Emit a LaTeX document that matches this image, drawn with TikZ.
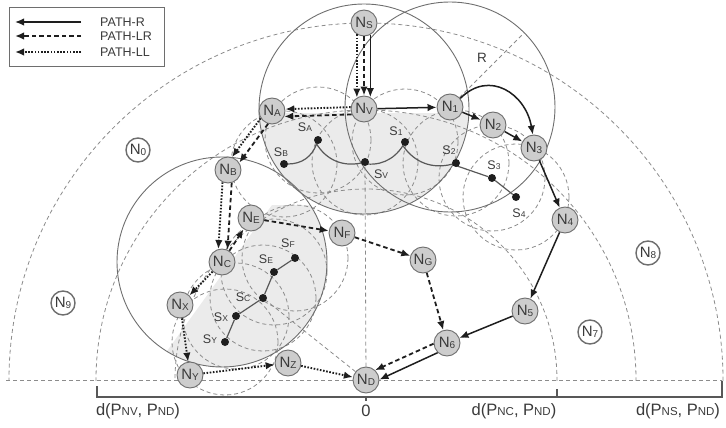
\documentclass[tikz,border=0pt]{standalone}
\usepackage{fontspec}
\setmainfont{Liberation Sans}
\usetikzlibrary{arrows.meta,calc}
\pgfdeclarelayer{bga}
\pgfdeclarelayer{bgb}
\pgfsetlayers{bga,bgb,main}
\definecolor{txt}{HTML}{3A3A3A}
\definecolor{ink}{HTML}{1E1E1E}
\definecolor{rng}{HTML}{6E6E6E}
\definecolor{dsh}{HTML}{8C8C8C}
\definecolor{nfill}{HTML}{CDCDCD}
\definecolor{lgray}{HTML}{EBEBEB}
\newcommand\nsub[1]{{\fontsize{10}{10}\selectfont\raisebox{-0.8pt}{#1}}}
\newcommand\ssub[1]{{\fontsize{8.5}{8.5}\selectfont\raisebox{-0.5pt}{#1}}}
\newcommand\bsub[1]{{\fontsize{11.5}{11.5}\selectfont #1}}
\tikzset{
 gnode/.style={circle,draw=rng,fill=nfill,line width=0.9pt,minimum size=26pt,inner sep=0pt,text=txt,font=\fontsize{15}{15}\selectfont},
 wnode/.style={circle,draw=rng,fill=white,line width=1.4pt,minimum size=24pt,inner sep=0pt,text=txt,font=\fontsize{15}{15}\selectfont},
 sdot/.style={circle,fill=ink,minimum size=8pt,inner sep=0pt},
 slab/.style={text=txt,font=\fontsize{12.5}{13}\selectfont,inner sep=0pt},
 blab/.style={text=txt,font=\fontsize{16.5}{16.5}\selectfont,inner sep=0pt},
 ltext/.style={text=txt,font=\fontsize{12.5}{13}\selectfont,inner sep=0pt,anchor=west},
 tipR/.tip={Latex[length=9pt,width=7.5pt]},
 pR/.style={draw=ink,line width=1.5pt,-{tipR}},
 pLR/.style={draw=ink,line width=1.8pt,dash pattern=on 4.5pt off 3pt,-{tipR}},
 pLL/.style={draw=ink,line width=1.9pt,dash pattern=on 1.6pt off 1.6pt,-{tipR}},
 rangec/.style={draw=rng,line width=0.9pt},
 dc/.style={draw=dsh,line width=0.8pt,dash pattern=on 4pt off 3pt},
 schain/.style={draw=rng!80!black,line width=1.2pt},
 axisl/.style={draw=rng!80!black,line width=1.3pt},
}
\begin{document}
\begin{tikzpicture}[x=1pt,y=-1pt]
\useasboundingbox (0,0) rectangle (726,428);
% ---------- nodes ----------
\node[gnode] (NS) at (364,23) {N\nsub{S}};
\node[gnode] (NV) at (364,109) {N\nsub{V}};
\node[gnode] (NA) at (272,111) {N\nsub{A}};
\node[gnode] (N1) at (450,107) {N\nsub{1}};
\node[gnode] (N2) at (493,125) {N\nsub{2}};
\node[gnode] (N3) at (534,148) {N\nsub{3}};
\node[gnode] (N4) at (565,220) {N\nsub{4}};
\node[gnode] (N5) at (525,311) {N\nsub{5}};
\node[gnode] (N6) at (447,343) {N\nsub{6}};
\node[gnode] (ND) at (366,380) {N\nsub{D}};
\node[gnode] (NZ) at (288,363) {N\nsub{Z}};
\node[gnode] (NY) at (190,375) {N\nsub{Y}};
\node[gnode] (NX) at (180,305) {N\nsub{X}};
\node[gnode] (NC) at (222,262) {N\nsub{C}};
\node[gnode] (NB) at (228,170) {N\nsub{B}};
\node[gnode] (NE) at (251,218) {N\nsub{E}};
\node[gnode] (NF) at (342,233) {N\nsub{F}};
\node[gnode] (NG) at (423,260) {N\nsub{G}};
\node[wnode] (N0) at (138,150) {N\nsub{0}};
\node[wnode] (N9) at (63,303) {N\nsub{9}};
\node[wnode] (N7) at (590,332) {N\nsub{7}};
\node[wnode] (N8) at (648,253) {N\nsub{8}};
% S points
\node[sdot] (SA) at (318,140) {};
\node[sdot] (SB) at (284,164) {};
\node[sdot] (SV) at (365,162) {};
\node[sdot] (S1) at (405,142) {};
\node[sdot] (S2) at (456,163) {};
\node[sdot] (S3) at (492,178) {};
\node[sdot] (S4) at (516,197) {};
\node[sdot] (SF) at (295,258) {};
\node[sdot] (SE) at (274,272) {};
\node[sdot] (SC) at (263,298) {};
\node[sdot] (SX) at (236,316) {};
\node[sdot] (SY) at (225,342) {};
\node[slab] (lSA) at (305,127) {S\ssub{A}};
\node[slab] (lSB) at (281,152) {S\ssub{B}};
\node[slab] (lSV) at (381,174) {S\ssub{V}};
\node[slab] (lS1) at (396,131) {S\ssub{1}};
\node[slab] (lS2) at (449,150) {S\ssub{2}};
\node[slab] (lS3) at (494,165) {S\ssub{3}};
\node[slab] (lS4) at (519,213) {S\ssub{4}};
\node[slab] (lSF) at (288,243) {S\ssub{F}};
\node[slab] (lSE) at (266,259) {S\ssub{E}};
\node[slab] (lSC) at (243,297) {S\ssub{C}};
\node[slab] (lSX) at (221,317) {S\ssub{X}};
\node[slab] (lSY) at (210,339) {S\ssub{Y}};
\node[slab,font=\fontsize{13.5}{13.5}\selectfont] (lR) at (482,58) {R};
% ---------- background fills ----------
\begin{pgfonlayer}{bga}
 \begin{scope}
  \clip (0,113) rectangle (726,428);
  \fill[lgray] (NV) circle[radius=105];
 \end{scope}
 \begin{scope}
  \clip (272,205) -- (139,390) -- (460,390) -- (460,205) -- cycle;
  \fill[lgray] (NC) circle[radius=105];
 \end{scope}
\end{pgfonlayer}
% ---------- dashed and range circles ----------
\coordinate (bl) at (6,380);
\coordinate (br) at (722,380);
\coordinate (Rend) at ($(N1)+(74,-74)$);
\begin{pgfonlayer}{bgb}
 \begin{scope}
  \clip (0,0) rectangle (726,380);
  \foreach \r in {191,270,357} \draw[dc] (ND) circle[radius=\r];
 \end{scope}
 \draw[dc] (bl) -- (br);
 \foreach \s in {SA,SB,SV,S1,S2,S3,S4,SF,SE,SC,SX,SY} \draw[dc] (\s) circle[radius=53];
 \draw[dc] (ND) -- (SV);
 \draw[dc] (ND) -- (SC);
 \draw[dc] (N1) -- (Rend);
 \draw[rangec] (NV) circle[radius=105];
 \draw[rangec] (N1) circle[radius=105];
 \draw[rangec] (NC) circle[radius=105];
 \draw[schain] (SB) to[bend right=35] (SA) to[bend right=35] (SV) to[bend right=35] (S1) to[bend right=35] (S2) -- (S3) -- (S4);
 \draw[schain] (SF) -- (SE) -- (SC) -- (SX) -- (SY);
\end{pgfonlayer}
% ---------- PATH-R ----------
\draw[pR] (NS.298) -- (NV.62);
\draw[pR] (NV) -- (N1);
\draw[pR] (N1) -- (N2);
\draw[pR] (N2) -- (N3);
\draw[pR] (N1.40) to[out=45,in=100,looseness=1.3] (N3.95);
\draw[pR] (N3) -- (N4);
\draw[pR] (N4) -- (N5);
\draw[pR] (N5) -- (N6);
\draw[pR] (N6.226) -- (ND.2);
% ---------- PATH-LR ----------
\draw[pLR] (NS) -- (NV);
\draw[pLR] (NV.204) -- (NA.336);
\draw[pLR] (NA.253) -- (NB.33);
\draw[pLR] (NB.286) -- (NC.66);
\draw[pLR] (NC) -- (NE);
\draw[pLR] (NE) -- (NF);
\draw[pLR] (NF) -- (NG);
\draw[pLR] (NG) -- (N6);
\draw[pLR] (N6.183) -- (ND.47);
% ---------- PATH-LL ----------
\draw[pLL] (NS.238) -- (NV.122);
\draw[pLL] (NV.172) -- (NA.8);
\draw[pLL] (NA.213) -- (NB.73);
\draw[pLL] (NB.246) -- (NC.106);
\draw[pLL] (NC) -- (NX);
\draw[pLL] (NX) -- (NY);
\draw[pLL] (NY) -- (NZ);
\draw[pLL] (NZ) -- (ND);
% ---------- legend ----------
\node[draw=rng,line width=0.9pt,minimum width=155pt,minimum height=59pt,anchor=north west,inner sep=0pt] (legend) at (9,7) {};
\coordinate (lg1a) at (81,22); \coordinate (lg1b) at (15,22);
\coordinate (lg2a) at (81,36); \coordinate (lg2b) at (15,36);
\coordinate (lg3a) at (81,52); \coordinate (lg3b) at (15,52);
\draw[pR] (lg1a) -- (lg1b);
\draw[pLR] (lg2a) -- (lg2b);
\draw[pLL] (lg3a) -- (lg3b);
\node[ltext] (lt1) at (100,22) {PATH-R};
\node[ltext] (lt2) at (100,36) {PATH-LR};
\node[ltext] (lt3) at (100,52) {PATH-LL};
% ---------- axis ----------
\coordinate (a0) at (97,386);
\coordinate (a1) at (97,397);
\coordinate (a2) at (722,397);
\coordinate (a3) at (722,381);
\coordinate (t1) at (557,389);
\coordinate (t1b) at (557,397);
\coordinate (t0) at (366,397);
\coordinate (t0b) at (366,401);
\draw[axisl] (a0) -- (a1) -- (a2) -- (a3);
\draw[axisl] (t1) -- (t1b);
\draw[axisl] (t0) -- (t0b);
\node[blab] (dV) at (138,411) {d(P\bsub{NV}, P\bsub{ND})};
\node[blab] (d0) at (366,411) {0};
\node[blab] (dC) at (514,411) {d(P\bsub{NC}, P\bsub{ND})};
\node[blab] (dS) at (678,411) {d(P\bsub{NS}, P\bsub{ND})};
\end{tikzpicture}
\end{document}
